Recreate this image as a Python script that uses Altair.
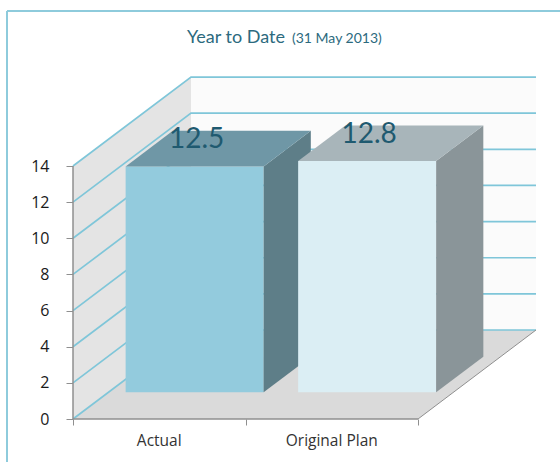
import altair as alt
import pandas as pd

categories = ["Actual", "Original Plan"]
values = [12.5, 12.8]
y_ticks = [0, 2, 4, 6, 8, 10, 12, 14]
x_ticks = [0, 1, 2]
title_main = "Year to Date"
title_note = "(31 May 2013)"

front_colors = ["#93cbdd", "#dbeef4"]
side_colors = ["#5e7e88", "#8a9599"]
top_colors = ["#6f97a6", "#a8b5ba"]
grid_color = "#7fc6d9"
axis_color = "#8f8f8f"
label_color = "#1f5a70"

# Oblique projection of the box: full depth expressed in x and y scale units.
DEPTH_X = 0.684
DEPTH_Y = 4.925
BAR_Z0, BAR_Z1 = 0.30, 0.70
BAR_MARGIN = 0.1
Y_MAX = 14

x_scale = alt.Scale(domain=[0, 464 / 172.5], nice=False, zero=False)
y_scale = alt.Scale(domain=[0, 342 / 18.07], nice=False, zero=False)
x_axis = alt.Axis(values=x_ticks, labels=False, domain=False, grid=False, title=None,
                  tickColor=axis_color, tickSize=6, tickWidth=1)
y_axis = alt.Axis(values=y_ticks, domain=False, grid=False, title=None, format="d",
                  tickColor=axis_color, tickSize=7, tickWidth=1, labelPadding=17,
                  labelFont="Open Sans", labelFontSize=16, labelColor="#1a1a1a")


def area_layer(rows, color):
    return alt.Chart(pd.DataFrame(rows, columns=["x", "y", "y2"])).mark_area(
        color=color, opacity=1
    ).encode(
        x=alt.X("x:Q", scale=x_scale, axis=x_axis),
        y=alt.Y("y:Q", scale=y_scale, axis=y_axis),
        y2="y2:Q",
    )


def line_layer(rows, color, width):
    return alt.Chart(pd.DataFrame(rows, columns=["x", "y"])).mark_line(
        color=color, strokeWidth=width
    ).encode(
        x=alt.X("x:Q", scale=x_scale, axis=x_axis),
        y=alt.Y("y:Q", scale=y_scale, axis=y_axis),
    )


def slanted_plane(x_left, x_right, level, dx, dy):
    # Horizontal parallelogram receding from the front edge at the given level.
    return [
        (x_left, level, level),
        (x_left + dx, level, level + dy),
        (x_right, level, level + dy),
        (x_right + dx, level + dy, level + dy),
    ]


layers = []

# Walls and floor of the box.
layers.append(area_layer([(0, 0, Y_MAX), (DEPTH_X, DEPTH_Y, Y_MAX + DEPTH_Y)], "#e4e4e4"))
layers.append(area_layer([(DEPTH_X, DEPTH_Y, Y_MAX + DEPTH_Y),
                          (2 + DEPTH_X, DEPTH_Y, Y_MAX + DEPTH_Y)], "#fbfbfb"))
layers.append(area_layer(slanted_plane(0, len(categories), 0, DEPTH_X, DEPTH_Y), "#dadada"))

# Gridlines run along the side wall and across the back wall.
for tick in y_ticks:
    layers.append(line_layer([(0, tick), (DEPTH_X, tick + DEPTH_Y), (2 + DEPTH_X, tick + DEPTH_Y)],
                             grid_color, 1.7))

# Axis lines and the floor's right-hand edge.
layers.append(line_layer([(0, 0), (0, Y_MAX)], axis_color, 1.5))
layers.append(line_layer([(0, 0), (2, 0)], axis_color, 1.5))
layers.append(line_layer([(2, 0), (2 + DEPTH_X, DEPTH_Y)], axis_color, 1))

# Each bar is three faces, drawn left to right so the nearer one overlaps.
for i, value in enumerate(values):
    left = i + BAR_MARGIN + DEPTH_X * BAR_Z0
    right = i + 1 - BAR_MARGIN + DEPTH_X * BAR_Z0
    base = DEPTH_Y * BAR_Z0
    top = value + base
    dx = DEPTH_X * (BAR_Z1 - BAR_Z0)
    dy = DEPTH_Y * (BAR_Z1 - BAR_Z0)
    layers.append(area_layer([(left, base, top), (right, base, top)], front_colors[i]))
    layers.append(area_layer([(right, base, top), (right + dx, base + dy, top + dy)], side_colors[i]))
    layers.append(area_layer(slanted_plane(left, right, top, dx, dy), top_colors[i]))

# Value labels sit just above each bar's front face.
label_df = pd.DataFrame({
    "x": [i + 0.5 + DEPTH_X * BAR_Z0 for i in range(len(values))],
    "y": [v + DEPTH_Y * BAR_Z0 for v in values],
    "label": [f"{v:.1f}" for v in values],
})
layers.append(alt.Chart(label_df).mark_text(
    font="Lato", fontSize=28, color=label_color, baseline="middle", align="center", dx=2, dy=-26.5
).encode(
    x=alt.X("x:Q", scale=x_scale, axis=x_axis),
    y=alt.Y("y:Q", scale=y_scale, axis=y_axis),
    text="label:N",
))

# Category names under the floor's front edge.
cat_df = pd.DataFrame({
    "x": [i + 0.5 for i in range(len(categories))],
    "y": [0] * len(categories),
    "label": categories,
})
layers.append(alt.Chart(cat_df).mark_text(
    font="Open Sans", fontSize=15.5, color="#333333", baseline="middle", align="center", dy=22
).encode(
    x=alt.X("x:Q", scale=x_scale, axis=x_axis),
    y=alt.Y("y:Q", scale=y_scale, axis=y_axis),
    text="label:N",
))

# Title in two sizes.
layers.append(alt.Chart(pd.DataFrame({"t": [title_main]})).mark_text(
    font="Lato", fontSize=18, color="#2c6a7e", align="left", baseline="alphabetic"
).encode(x=alt.value(114), y=alt.value(-34), text="t:N"))
layers.append(alt.Chart(pd.DataFrame({"t": [title_note]})).mark_text(
    font="Lato", fontSize=14, color="#2c6a7e", align="left", baseline="alphabetic"
).encode(x=alt.value(219), y=alt.value(-34), text="t:N"))

# Open frame along the top and left of the page.
frame_color = "#8ecbdc"
layers.append(alt.Chart(pd.DataFrame({"a": [0]})).mark_rule(color=frame_color, strokeWidth=2).encode(
    x=alt.value(-66), y=alt.value(-66), y2=alt.value(385)))
layers.append(alt.Chart(pd.DataFrame({"a": [0]})).mark_rule(color=frame_color, strokeWidth=2).encode(
    x=alt.value(-66), x2=alt.value(487), y=alt.value(-66)))

chart = alt.layer(*layers).properties(
    width=464,
    height=342,
    padding={"left": 73, "top": 77, "right": 23, "bottom": 43},
    autosize=alt.AutoSizeParams(type="none"),
    background="white",
).configure_view(stroke=None)

chart.save("out.html", embed_options={"renderer": "svg", "actions": False})
